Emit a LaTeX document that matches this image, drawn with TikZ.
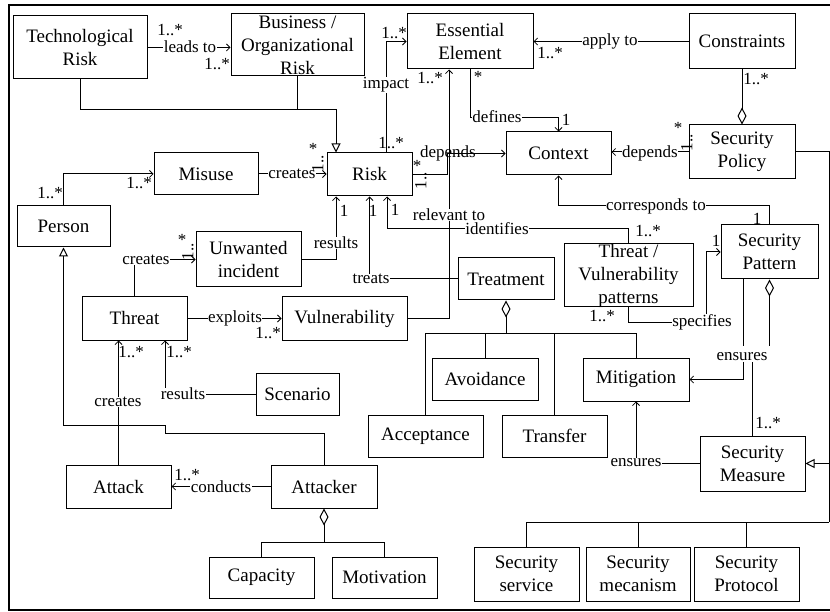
\documentclass[tikz,border=0pt]{standalone}
\usepackage{fontspec}
\setmainfont{Liberation Serif}
\usetikzlibrary{arrows.meta,calc}

% class box: name, x1, y1, x2, y2, text (pixel-style coordinates, y downwards)
\newcommand\umlbox[6]{%
  \node[box, minimum width={(#4-#2)*1pt}, minimum height={(#5-#3)*1pt},
        label={[boxtext]center:#6}] (#1) at ({(#2+#4)/2},{(#3+#5)/2}) {};}

\begin{document}
\begin{tikzpicture}[x=1pt,y=-1pt,
  box/.style={draw, line width=1pt, inner sep=0pt, rectangle},
  boxtext/.style={align=center, font=\fontsize{19}{23}\selectfont, inner sep=0pt},
  lbl/.style={font=\fontsize{17}{19}\selectfont, inner sep=0.5pt, fill=white},
  lblnf/.style={font=\fontsize{17}{19}\selectfont, inner sep=0.5pt},
  mult/.style={font=\fontsize{17}{19}\selectfont, inner sep=0pt},
  link/.style={line width=1pt},
  assoc/.style={link, -{Straight Barb[length=3.5pt,width=7pt,line width=0.8pt]}},
  gen/.style={link, -{Triangle[open,length=9pt,width=9pt,line width=1pt]}},
  aggr/.style={link, {Diamond[open,length=17pt,width=9pt,line width=1pt]}-},
]
\useasboundingbox (0,0) rectangle (830,612);

% frame
\draw[line width=1.2pt] (830,5) -- (9,5) -- (9,610) -- (830,610);

% classes
\umlbox{tr}{13}{16}{147}{79}{Technological\\Risk}
\umlbox{bor}{231}{14}{364}{76}{Business /\\Organizational\\Risk}
\umlbox{ee}{407}{14}{533}{69}{Essential\\Element}
\umlbox{cons}{689}{14}{795}{69}{Constraints}
\umlbox{sp}{689}{125}{795}{179}{Security\\Policy}
\umlbox{ctx}{506}{132}{611}{175}{Context}
\umlbox{risk}{327}{153}{412}{196}{Risk}
\umlbox{mis}{154}{153}{258}{195}{Misuse}
\umlbox{per}{17}{206}{110}{247}{Person}
\umlbox{ui}{196}{232}{301}{287}{Unwanted\\incident}
\umlbox{thr}{82}{297}{187}{340}{Threat}
\umlbox{vul}{282}{297}{407}{340}{Vulnerability}
\umlbox{treat}{458}{258}{554}{300}{Treatment}
\umlbox{tvp}{564}{244}{693}{307}{Threat /\\Vulnerability\\patterns}
\umlbox{spat}{721}{225}{818}{279}{Security\\Pattern}
\umlbox{avo}{432}{358}{538}{400}{Avoidance}
\umlbox{mit}{583}{358}{689}{401}{Mitigation}
\umlbox{acc}{368}{415}{483}{457}{Acceptance}
\umlbox{tra}{502}{415}{607}{457}{Transfer}
\umlbox{scen}{256}{373}{339}{415}{Scenario}
\umlbox{atk}{66}{465}{171}{508}{Attack}
\umlbox{atkr}{271}{465}{377}{508}{Attacker}
\umlbox{cap}{209}{557}{314}{598}{Capacity}
\umlbox{mot}{332}{557}{437}{598}{Motivation}
\umlbox{sm}{700}{436}{805}{491}{Security\\Measure}
\umlbox{ssvc}{474}{547}{579}{601}{Security\\service}
\umlbox{smec}{586}{547}{690}{601}{Security\\mecanism}
\umlbox{sprot}{694}{547}{799}{601}{Security\\Protocol}

% risk kinds
\draw[assoc] (tr.east) -- (tr.east -| bor.west);
\node[lbl] (l-leads) at (190,47) {leads to};
\node[mult] (m-leads1) at (170,30) {1..*};
\node[mult] (m-leads2) at (217,64) {1..*};
\draw[gen] (tr.south) -- ++(0,30) -| ([xshift=-33.5pt]risk.north);
\draw[link] (bor.south) -- ++(0,33);

% risk impact on essential elements
\draw[assoc] ([xshift=16.5pt]risk.north) |- (ee.west);
\node[lbl] (l-impact) at (386,85) {impact};
\node[mult] (m-imp1) at (394,33) {1..*};
\node[mult] (m-imp2) at (391,143) {1..*};

% constraints
\draw[assoc] (cons.west) -- (ee.east);
\node[lbl] (l-apply) at (610,41) {apply to};
\node[mult] (m-apply) at (550,53) {1..*};
\draw[aggr] (sp.north) -- (cons.south);
\node[mult] (m-cons) at (756,79) {1..*};

% context
\draw[assoc] (ee.south) -- ++(0,48) -| (ctx.north);
\node[lbl] (l-defines) at (497,117) {defines};
\node[mult] (m-def1) at (478,77) {*};
\node[mult] (m-def2) at (566,120) {1};

\draw[assoc] (risk.east) -- ++(35,0) |- (ctx.west);
\node[lblnf] (l-dep1) at (448,153) {depends};
\node[mult] (m-dep1a) at (417,166) {*};
\node[mult, rotate=90] (m-dep1b) at (421,181) {1..};

\draw[assoc] (sp.west) -- (sp.west -| ctx.east);
\node[lbl] (l-dep2) at (650,153) {depends};
\node[mult] (m-dep2a) at (678,128) {*};
\node[mult, rotate=90] (m-dep2b) at (687,143) {1..};

% vulnerability relevant to essential element
\draw[assoc] (vul.east) -| ([xshift=-21pt]ee.south);
\node[lbl] (l-relevant) at (449,215) {relevant to};
\node[mult] (m-rel) at (430,78) {1..*};

% misuse
\draw[assoc] (per.north) |- (mis.west);
\node[mult] (m-per) at (50,193) {1..*};
\node[mult] (m-mis) at (139,183) {1..*};
\draw[assoc] (mis.east) -- (mis.east -| risk.west);
\node[lbl] (l-creates1) at (292,174) {creates};
\node[mult] (m-cr1a) at (313,149) {*};
\node[mult, rotate=90] (m-cr1b) at (318,164) {1..};

% unwanted incident, treatment, patterns towards risk
\draw[assoc] (ui.east) -| ([xshift=-33.5pt]risk.south);
\node[lbl] (l-results1) at (336,243) {results};
\node[mult] (m-res1) at (344,211) {1};

\draw[assoc] (treat.west) -| (risk.south);
\node[lbl] (l-treats) at (371,279) {treats};
\node[mult] (m-treats) at (373,211) {1};

\draw[assoc] (tvp.north) -- ++(0,-15) -| ([xshift=17.5pt]risk.south);
\node[lbl] (l-ident) at (497,229) {identifies};
\node[mult] (m-id1) at (395,210) {1};
\node[mult] (m-id2) at (648,231) {1..*};

% threat
\draw[assoc] (thr.north) |- (ui.west);
\node[lbl] (l-creates2) at (146,260) {creates};
\node[mult] (m-cr2a) at (182,240) {*};
\node[mult, rotate=90] (m-cr2b) at (188,252) {1..};

\draw[assoc] (thr.east) -- (vul.west);
\node[lbl] (l-exploits) at (235,318) {exploits};
\node[mult] (m-expl) at (268,333) {1..*};

\draw[assoc] (scen.west) -| ([xshift=30.5pt]thr.south);
\node[lbl] (l-results2) at (183,394) {results};
\node[mult] (m-res2) at (179,352) {1..*};

\draw[assoc] (atk.north) -- (atk.north |- thr.south);
\node[lbl] (l-creates3) at (118,402) {creates};
\node[mult] (m-cr3) at (131,352) {1..*};

% attacker is a person
\draw[gen] (atkr.north) -- ++(0,-31) -- ++(-159,0) -- ++(0,-8) -| (per.south);

\draw[assoc] (atkr.west) -- (atk.east);
\node[lbl] (l-conducts) at (221,487) {conducts};
\node[mult] (m-cond) at (187,475) {1..*};

\draw[aggr] (atkr.south) -- ++(0,34) coordinate (aj);
\draw[link] (cap.north) |- (aj) -| (mot.north);

% treatment options
\draw[aggr] (treat.south) -- ++(0,33) coordinate (tj);
\draw[link] (acc.north) |- (tj) -| (mit.north);
\draw[link] (avo.north) -- (avo.north |- tj);
\draw[link] (tra.north) -- (tra.north |- tj);

% security pattern
\draw[assoc] (spat.north) -- ++(0,-19) -| (ctx.south);
\node[lbl] (l-corr) at (656,206) {corresponds to};
\node[mult] (m-corr) at (757,219) {1};

\draw[assoc] (tvp.south) -- ++(0,15) -- ++(78,0) |- (spat.west);
\node[lbl] (l-spec) at (702,322) {specifies};
\node[mult] (m-spec1) at (602,316) {1..*};
\node[mult] (m-spec2) at (716,241) {1};

\node[lblnf] (l-ens1) at (742,357) {ensures};
\draw[link] ([xshift=-26.5pt]spat.south) -- ++(0,66);
\draw[assoc] ([xshift=1pt]l-ens1.south) |- (mit.east);
\draw[aggr] (spat.south) -- ++(0,66);
\draw[link] (sm.north) -- (sm.north |- l-ens1.south);
\node[mult] (m-sm) at (768,423) {1..*};

\draw[assoc] (sm.west) -| (mit.south);
\node[lbl] (l-ens2) at (636,463) {ensures};

% security measure kinds
\coordinate (rail) at (829,522);
\draw[link] (sp.east) -| (rail);
\draw[gen] (rail |- sm.east) -- (sm.east);
\draw[link] (ssvc.north) |- (rail);
\draw[link] (smec.north) -- (smec.north |- rail);
\draw[link] (sprot.north) -- (sprot.north |- rail);

\end{tikzpicture}
\end{document}
